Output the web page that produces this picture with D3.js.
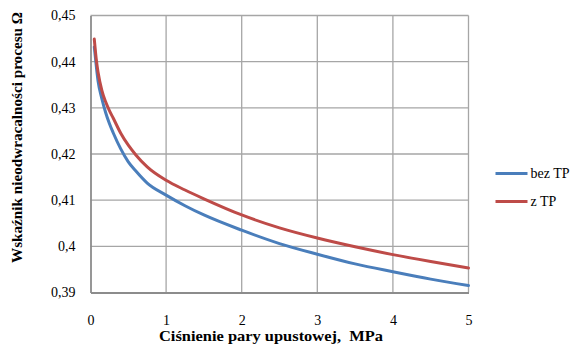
<!DOCTYPE html>
<html>
<head>
<meta charset="utf-8">
<script src="https://cdn.jsdelivr.net/npm/d3@7"></script>
<style>
  html, body { margin: 0; padding: 0; background: #fff; }
  svg { display: block; }
</style>
</head>
<body>
<svg id="chart" width="578" height="353"></svg>
<script>
// Steam extraction pressure, MPa
const pressure = [0.05, 0.08, 0.1, 0.15, 0.2, 0.25, 0.3, 0.4, 0.5, 0.6, 0.75, 1, 1.25, 1.5, 2, 2.5, 3, 3.5, 4, 4.5, 5];
// Process irreversibility index without heat pump
const bezTP = [0.4432, 0.4385, 0.4358, 0.4320, 0.4290, 0.4266, 0.4246, 0.4211, 0.4183, 0.4163, 0.4137, 0.4111, 0.4088, 0.4068, 0.4035, 0.4006, 0.3983, 0.3962, 0.3945, 0.3929, 0.3915];
// Process irreversibility index with heat pump
const zTP = [0.4449, 0.4400, 0.4377, 0.4338, 0.4313, 0.4294, 0.4278, 0.4245, 0.4219, 0.4198, 0.4172, 0.4143, 0.4122, 0.4103, 0.4068, 0.4040, 0.4018, 0.3999, 0.3982, 0.3967, 0.3953];

const seriesNames = ["bez TP", "z TP"];
const seriesColors = ["#4A7EBB", "#BE4B48"];

const xTicks = [0, 1, 2, 3, 4, 5];
const yTicks = [0.39, 0.40, 0.41, 0.42, 0.43, 0.44, 0.45];
const yTickLabels = ["0,39", "0,4", "0,41", "0,42", "0,43", "0,44", "0,45"];

const xTitle = "Ciśnienie pary upustowej,  MPa";
const yTitle = "Wskaźnik nieodwracalności procesu Ω";

const FONT = "'Liberation Serif', 'Times New Roman', 'Liberation Sans', sans-serif";

const svg = d3.select("#chart");
const plot = { left: 90.5, right: 468.5, top: 15.5, bottom: 292.5 };

const x = d3.scaleLinear().domain([0, 5]).range([plot.left, plot.right]);
const y = d3.scaleLinear().domain([0.39, 0.45]).range([plot.bottom, plot.top]);

// Grid
const grid = svg.append("g");
grid.selectAll("line.v").data(xTicks.slice(1)).join("line")
  .attr("x1", d => x(d)).attr("x2", d => x(d))
  .attr("y1", plot.top).attr("y2", plot.bottom)
  .attr("stroke", "#A6A6A6").attr("stroke-width", 1.3);
grid.selectAll("line.h").data(yTicks.slice(1)).join("line")
  .attr("x1", plot.left).attr("x2", plot.right)
  .attr("y1", d => y(d)).attr("y2", d => y(d))
  .attr("stroke", "#A6A6A6").attr("stroke-width", 1.3);

// Axes
const xAxis = d3.axisBottom(x).tickValues(xTicks).tickSize(0).tickPadding(23)
  .tickFormat(d3.format("d"));
const yAxis = d3.axisLeft(y).tickValues(yTicks).tickSize(0).tickPadding(15)
  .tickFormat((d, i) => yTickLabels[i]);

const gx = svg.append("g").attr("transform", `translate(0,${plot.bottom})`).call(xAxis);
const gy = svg.append("g").attr("transform", `translate(${plot.left},0)`).call(yAxis);
[gx, gy].forEach(g => {
  g.attr("font-family", null).attr("font-size", null);
  g.select(".domain").attr("stroke", "#8C8C8C").attr("stroke-width", 1.8);
  g.selectAll("text").style("font-family", FONT).style("font-size", "14px").attr("fill", "#000");
});

// Series lines
const line = d3.line()
  .x((d, i) => x(pressure[i]))
  .y(d => y(d))
  .curve(d3.curveMonotoneX);

[bezTP, zTP].forEach((vals, k) => {
  svg.append("path")
    .datum(vals)
    .attr("fill", "none")
    .attr("stroke", seriesColors[k])
    .attr("stroke-width", 3)
    .attr("stroke-linecap", "round")
    .attr("stroke-linejoin", "round")
    .attr("d", line);
});

// Legend
const legend = svg.append("g").attr("transform", "translate(495.5,173.5)");
seriesNames.forEach((name, k) => {
  const g = legend.append("g").attr("transform", `translate(0,${k * 28})`);
  g.append("line").attr("x1", 0).attr("x2", 32).attr("y1", 0).attr("y2", 0)
    .attr("stroke", seriesColors[k]).attr("stroke-width", 3);
  g.append("text").attr("x", 35).attr("y", 4.5)
    .style("font-family", FONT).style("font-size", "14px").text(name);
});

// Axis titles
svg.append("text")
  .attr("x", 271).attr("y", 341)
  .attr("text-anchor", "middle")
  .attr("textLength", 224).attr("lengthAdjust", "spacingAndGlyphs")
  .style("font-family", FONT).style("font-size", "14px").style("font-weight", "bold")
  .style("white-space", "pre")
  .text(xTitle);

svg.append("text")
  .attr("transform", "translate(22,137.5) rotate(-90)")
  .attr("text-anchor", "middle")
  .attr("textLength", 251).attr("lengthAdjust", "spacingAndGlyphs")
  .style("font-family", FONT).style("font-size", "14px").style("font-weight", "bold")
  .text(yTitle);
</script>
</body>
</html>
